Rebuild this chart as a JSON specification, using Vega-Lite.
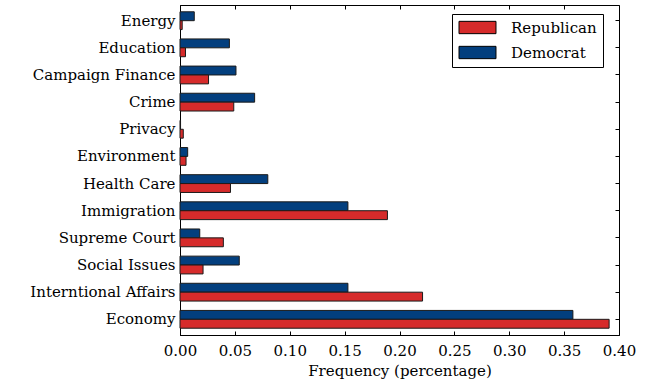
{
  "$schema": "https://vega.github.io/schema/vega-lite/v6.json",
  "width": 439,
  "height": 330,
  "autosize": "none",
  "padding": {"left": 180, "top": 5, "right": 33, "bottom": 46},
  "background": "white",
  "config": {
    "font": "DejaVu Serif",
    "view": {"stroke": "black", "strokeWidth": 1},
    "axis": {
      "domainColor": "black",
      "tickColor": "black",
      "labelColor": "black",
      "titleColor": "black",
      "grid": false,
      "labelFont": "DejaVu Serif",
      "titleFont": "DejaVu Serif",
      "labelFontSize": 15,
      "titleFontSize": 15,
      "titleFontWeight": "normal"
    }
  },
  "data": {
    "values": [
      {"topic": "Energy", "party": "Democrat", "freq": 0.013},
      {"topic": "Energy", "party": "Republican", "freq": 0.002},
      {"topic": "Education", "party": "Democrat", "freq": 0.045},
      {"topic": "Education", "party": "Republican", "freq": 0.005},
      {"topic": "Campaign Finance", "party": "Democrat", "freq": 0.051},
      {"topic": "Campaign Finance", "party": "Republican", "freq": 0.026},
      {"topic": "Crime", "party": "Democrat", "freq": 0.068},
      {"topic": "Crime", "party": "Republican", "freq": 0.049},
      {"topic": "Privacy", "party": "Democrat", "freq": 0.0005},
      {"topic": "Privacy", "party": "Republican", "freq": 0.003},
      {"topic": "Environment", "party": "Democrat", "freq": 0.007},
      {"topic": "Environment", "party": "Republican", "freq": 0.0055},
      {"topic": "Health Care", "party": "Democrat", "freq": 0.080},
      {"topic": "Health Care", "party": "Republican", "freq": 0.046},
      {"topic": "Immigration", "party": "Democrat", "freq": 0.153},
      {"topic": "Immigration", "party": "Republican", "freq": 0.189},
      {"topic": "Supreme Court", "party": "Democrat", "freq": 0.018},
      {"topic": "Supreme Court", "party": "Republican", "freq": 0.0395},
      {"topic": "Social Issues", "party": "Democrat", "freq": 0.054},
      {"topic": "Social Issues", "party": "Republican", "freq": 0.021},
      {"topic": "Interntional Affairs", "party": "Democrat", "freq": 0.153},
      {"topic": "Interntional Affairs", "party": "Republican", "freq": 0.221},
      {"topic": "Economy", "party": "Democrat", "freq": 0.358},
      {"topic": "Economy", "party": "Republican", "freq": 0.391}
    ]
  },
  "layer": [
    {
      "mark": {"type": "bar", "stroke": "#1a1a1a", "strokeWidth": 1},
      "encoding": {
        "y": {
          "field": "topic", "type": "nominal",
          "sort": ["Energy", "Education", "Campaign Finance", "Crime", "Privacy", "Environment", "Health Care", "Immigration", "Supreme Court", "Social Issues", "Interntional Affairs", "Economy"],
          "scale": {"paddingInner": 0.345, "paddingOuter": 0.25},
          "axis": {"title": null, "ticks": false, "labelPadding": 5}
        },
        "x": {
          "field": "freq", "type": "quantitative",
          "scale": {"domain": [0, 0.4], "nice": false},
          "axis": {
            "title": "Frequency (percentage)",
            "format": ".2f",
            "values": [0, 0.05, 0.1, 0.15, 0.2, 0.25, 0.3, 0.35, 0.4],
            "labelFlush": false,
            "labelOverlap": false,
            "tickSize": -4,
            "labelPadding": 12,
            "titlePadding": 5
          }
        },
        "yOffset": {"field": "party", "sort": ["Democrat", "Republican"]},
        "color": {
          "field": "party", "type": "nominal",
          "scale": {"domain": ["Republican", "Democrat"], "range": ["#d62b2b", "#033f7e"]},
          "legend": {
            "title": null,
            "orient": "none",
            "legendX": 272,
            "legendY": 9,
            "strokeColor": "black",
            "fillColor": "white",
            "padding": 6,
            "symbolType": "M-3,-1H3V1H-3Z",
            "symbolSize": 152,
            "symbolOffset": 12,
            "symbolStrokeColor": "black",
            "symbolStrokeWidth": 1,
            "symbolOpacity": 1,
            "labelFontSize": 15,
            "labelFont": "DejaVu Serif",
            "labelColor": "black",
            "labelOffset": 26,
            "rowPadding": 8
          }
        }
      }
    },
    {
      "mark": {"type": "bar", "opacity": 0},
      "encoding": {
        "y": {
          "field": "topic", "type": "nominal",
          "sort": ["Energy", "Education", "Campaign Finance", "Crime", "Privacy", "Environment", "Health Care", "Immigration", "Supreme Court", "Social Issues", "Interntional Affairs", "Economy"],
          "axis": {"orient": "right", "title": null, "labels": false, "domain": false, "tickSize": -4}
        },
        "x": {
          "field": "freq", "type": "quantitative",
          "axis": {"orient": "top", "title": null, "labels": false, "domain": false, "tickSize": -4, "values": [0, 0.05, 0.1, 0.15, 0.2, 0.25, 0.3, 0.35, 0.4]}
        },
        "yOffset": {"field": "party", "sort": ["Democrat", "Republican"]}
      }
    }
  ],
  "resolve": {"axis": {"x": "independent", "y": "independent"}}
}
